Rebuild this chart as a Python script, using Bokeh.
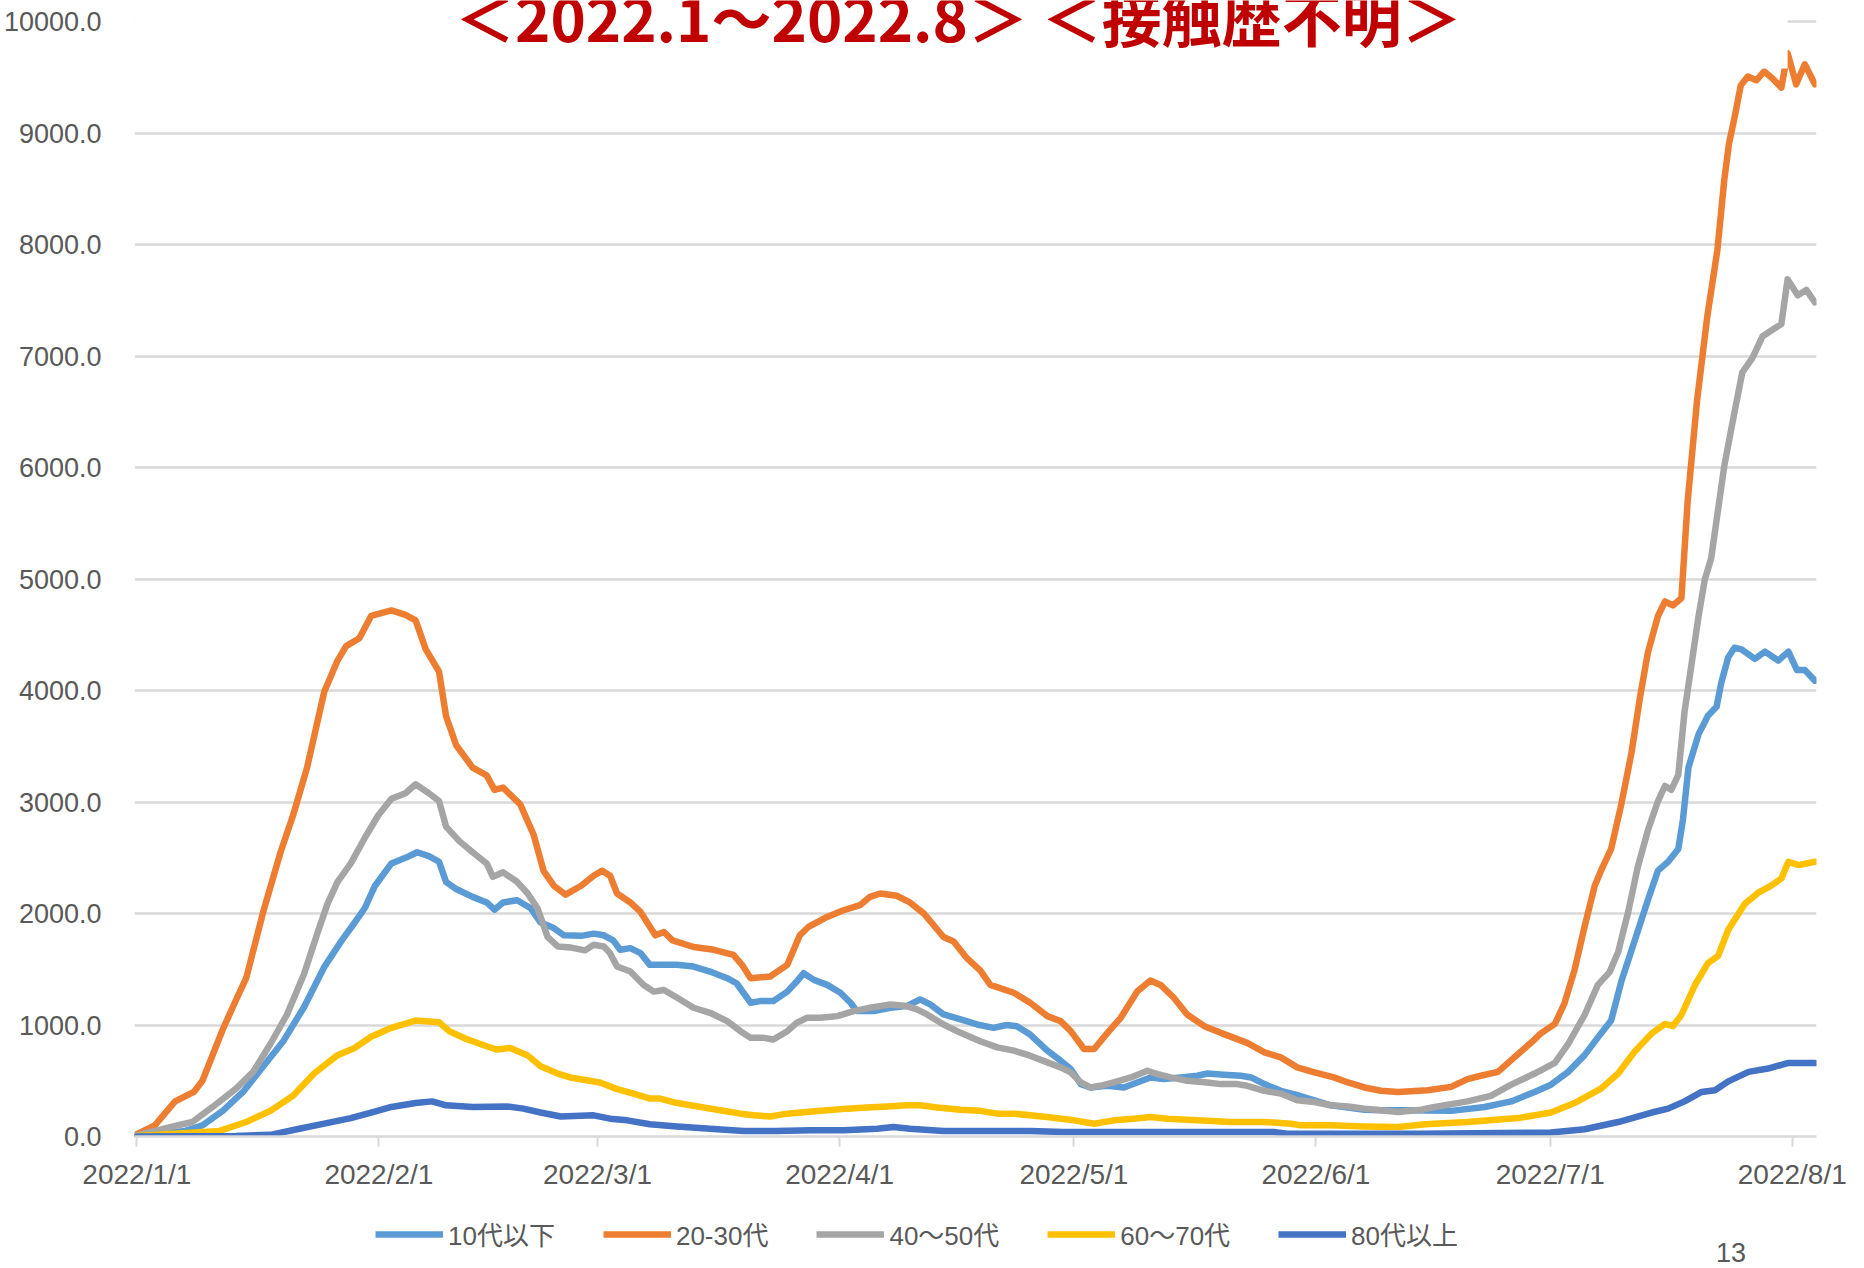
import numpy as np
from bokeh.plotting import figure
from bokeh.layouts import column
from bokeh.models import (Legend, LegendItem, Label, BoxAnnotation, FixedTicker,
                          NumeralTickFormatter, ColumnDataSource)
from bokeh.embed import file_html
from bokeh.resources import INLINE

# ---------------- data (x = days since 2022/1/1) -------------
tick_days = [0, 31, 59, 90, 120, 151, 181, 212]
tick_labels = ["2022/1/1", "2022/2/1", "2022/3/1", "2022/4/1",
               "2022/5/1", "2022/6/1", "2022/7/1", "2022/8/1"]
y_ticks = [0, 1000, 2000, 3000, 4000, 5000, 6000, 7000, 8000, 9000, 10000]

series_names = ["10代以下", "20-30代", "40～50代", "60～70代", "80代以上"]
series_colors = ["#5B9BD5", "#ED7D31", "#A5A5A5", "#FFC000", "#4472C4"]

d_10 = [0, 6.2, 8.4, 11, 13.6, 16.2, 18.8, 21.4, 24, 26.2, 27.9, 29.2, 30.5, 32.6, 34.4, 35.9,
        37.4, 38.7, 39.6, 40.9, 43, 44.8, 45.8, 46.9, 48.7, 50.4, 51.7, 53.4, 54.7, 56.9, 58.5,
        59.8, 61, 61.9, 63.2, 64.5, 65.7, 67, 69.2, 71.3, 73.4, 75.6, 76.8, 78.6, 79.8, 81.5,
        83.3, 84.5, 85.4, 86.7, 88.4, 90.1, 91.4, 92.2, 94.4, 96.5, 98.6, 100.3, 101.6, 103.3,
        105.5, 107.6, 109.7, 111.4, 112.7, 114.4, 116.6, 118.3, 119.6, 120.9, 122.1, 124.3,
        126.4, 128.1, 129.8, 131.5, 133.7, 135.8, 137.1, 139.2, 141.4, 142.7, 144.4, 146.5,
        148.6, 150.8, 152.9, 155.1, 157.2, 159.3, 161.9, 168.3, 172.6, 176, 179, 181.1, 183.3,
        185.4, 187.5, 188.8, 190.1, 191.8, 193.5, 194.8, 196.1, 197.4, 198, 198.7, 200, 201.2,
        202.3, 202.9, 203.8, 204.6, 205.5, 207.2, 208.5, 210.2, 211.5, 212.6, 213.6, 214.9]
v_10 = [5, 50, 100, 230, 400, 630, 860, 1160, 1520, 1755, 1920, 2050, 2250, 2450, 2500, 2550,
        2515, 2465, 2285, 2220, 2150, 2100, 2035, 2100, 2120, 2050, 1920, 1870, 1805, 1800, 1820,
        1805, 1760, 1675, 1690, 1645, 1540, 1540, 1540, 1525, 1480, 1420, 1375, 1200, 1215, 1215,
        1300, 1390, 1465, 1405, 1360, 1290, 1200, 1125, 1125, 1155, 1170, 1230, 1185, 1095,
        1050, 1005, 975, 1000, 990, 915, 770, 680, 605, 470, 440, 455,
        440, 485, 530, 515, 530, 545, 565, 555, 545, 530, 470, 410,
        370, 325, 280, 260, 240, 235, 235, 230, 265, 315, 400, 465, 580,
        730, 925, 1040, 1390, 1755, 2120, 2385, 2465, 2580, 2845, 3310, 3610, 3775,
        3855, 4070, 4300, 4385, 4370, 4285, 4350, 4270, 4350, 4185, 4185, 4090]

d_20 = [0, 2.3, 4.9, 7.3, 8.4, 11, 12.7, 14, 16.2, 18.4, 20, 21.8, 24, 25.7, 26.8, 28.5, 30,
        32.6, 34.4, 35.7, 37, 38.7, 39.6, 40.9, 43, 44.8, 45.8, 46.9, 49.1, 50.8, 52.1, 53.4,
        54.9, 56.9, 58.5, 59.6, 60.6, 61.5, 63.2, 64.5, 66.4, 67.5, 68.6, 71.3, 73.9, 76.4,
        77.5, 78.6, 81.1, 83.3, 84.9, 86, 88.4, 90.5, 92.6, 93.9, 95.2, 97.3, 99, 100.8, 103.3,
        104.6, 106.3, 108, 109.3, 112.3, 114.4, 116.6, 118.3, 119.6, 121.3, 122.6, 124.3, 126,
        128.1, 129.8, 131.1, 132.8, 134.5, 136.7, 138.8, 140.5, 142.2, 144.4, 146.5, 148.6,
        150.8, 153.3, 155.1, 157.2, 159.3, 161.5, 165.3, 168.3, 170.4, 172.1, 174.3, 176.4,
        178.6, 179.8, 181.6, 182.8, 184.1, 185.4, 186.7, 187.5, 188.8, 190.1, 191.4, 192.5,
        193.5, 194.8, 195.7, 196.7, 197.8, 198.6, 199.8, 201.1, 202.4, 203.3, 203.9, 204.6,
        205.4, 206.3, 207.4, 208.4, 209.5, 210.6, 211.4, 212.5, 213.6, 214.9]
v_20 = [20, 100, 315, 400, 500, 960, 1225, 1420, 2020, 2550, 2880, 3310, 3990, 4270, 4400, 4470,
        4670, 4720, 4680, 4630, 4370, 4170, 3770, 3510, 3310, 3240, 3110, 3130, 2980, 2710, 2380,
        2250, 2170, 2250, 2340, 2385, 2340, 2180, 2100, 2015, 1805, 1835, 1760, 1700, 1675, 1630,
        1540, 1420, 1435, 1540, 1805, 1880, 1970, 2030, 2075, 2150, 2180, 2160, 2100, 2000, 1790,
        1750, 1600, 1490, 1360, 1290, 1200, 1080, 1035, 945, 785, 785, 930, 1065,
        1300, 1400, 1360, 1245, 1095, 990, 930, 885, 840, 755, 710, 620,
        575, 530, 485, 440, 410, 400, 415, 445, 515, 545, 580, 710,
        845, 925, 1010, 1190, 1490, 1885, 2250, 2385, 2580, 2980, 3440, 3940,
        4340, 4670, 4800, 4765, 4830, 5700, 6600, 7350, 7950, 8590, 8910, 9140,
        9430, 9510, 9476, 9556, 9490, 9410, 9720, 9440, 9620, 9440]

d_40 = [0, 4, 7.1, 9.7, 12.7, 14.9, 17.1, 19.2, 21.4, 23.1, 24.4, 25.7, 27.4, 29.2, 30.9, 32.6,
        34.4, 35.7, 37.4, 38.7, 39.6, 41.3, 43, 44.8, 45.6, 46.9, 48.7, 50, 51.3, 52.6, 53.9,
        55.6, 57.4, 58.5, 59.8, 60.6, 61.5, 63.2, 64.9, 66.2, 67.5, 69.2, 71.3, 73.4, 75.6, 77.3,
        78.6, 80.3, 81.5, 83.3, 84.5, 85.8, 87.5, 89.7, 91.8, 93.9, 96.5, 98.6, 99.9, 101.2,
        103.3, 105.5, 108, 110.2, 112.3, 114.4, 116.6, 118.3, 119.6, 120.9, 122.1, 123.4, 125.1,
        127.3, 129.4, 130.7, 132.4, 134.5, 137.1, 138.8, 140.9, 142.2, 144.4, 146.5, 148.6,
        150.8, 152.9, 155.1, 157.2, 159.3, 161.5, 164.5, 166.2, 170.4, 173.4, 176, 179, 181.6,
        183.3, 185.4, 187.1, 188.6, 189.7, 191, 192.2, 193.5, 194.8, 195.7, 196.5, 197.4, 198.2,
        199.1, 200, 200.8, 201.6, 203.3, 204.6, 205.6, 206.9, 208.2, 210.6, 211.4, 212.7, 213.8,
        214.9]
v_40 = [10, 80, 130, 265, 430, 580, 830, 1090, 1455, 1820, 2085, 2285, 2450, 2680, 2880, 3030,
        3080, 3160, 3080, 3010, 2780, 2650, 2550, 2450, 2330, 2370, 2285, 2185, 2050, 1790, 1705,
        1695, 1670, 1720, 1705, 1645, 1525, 1480, 1360, 1300, 1315, 1245, 1155, 1110, 1035, 945,
        885, 885, 870, 945, 1020, 1065, 1065, 1080, 1125, 1155, 1185, 1170, 1140, 1095,
        1005, 930, 855, 800, 770, 725, 665, 620, 575, 485, 440, 455, 485,
        530, 590, 560, 530, 500, 485, 470, 470, 455, 410, 385, 325,
        310, 280, 270, 250, 235, 220, 240, 265, 315, 365, 465, 565, 660,
        830, 1090, 1360, 1475, 1655, 2020, 2415, 2745, 3010, 3145, 3110, 3245, 3810,
        4240, 4670, 5000, 5184, 6020, 6500, 6856, 6985, 7180, 7290, 7690, 7547, 7595,
        7483]

d_60 = [0, 10.6, 14, 17.1, 20, 22.7, 25.7, 27.9, 30, 32.6, 35.7, 38.7, 40, 42.2, 44.8, 46.1,
        47.8, 50, 51.7, 53.9, 55.5, 57.6, 59.3, 61.5, 63.6, 65.7, 67, 69.2, 72.2, 74.7, 77.3, 79,
        81.1, 83.3, 85.8, 88.4, 91, 93.5, 96.1, 98.6, 100.3, 102.5, 105.5, 108, 110.2, 112.3,
        116.6, 120, 122.6, 125.1, 127.7, 129.8, 132, 135.8, 140.1, 144.4, 147.8, 149.1, 152.9,
        157.2, 161.5, 165, 170.4, 176.9, 181.1, 184.1, 187.5, 189.7, 191.8, 194, 195.7, 196.7,
        197.8, 199.5, 201.2, 202.5, 203.8, 205.9, 207.6, 209.3, 210.6, 211.5, 212.8, 214.9]
v_60 = [5, 50, 130, 230, 365, 565, 730, 795, 895, 975, 1040, 1025, 945, 875, 810, 780,
        795, 730, 630, 565, 530, 505, 485, 425, 385, 340, 340, 300, 265, 235, 205, 190,
        180, 205, 220, 235, 250, 260, 270, 280, 280, 260, 240, 230, 205, 205,
        175, 145, 115, 145, 160, 175, 160, 145, 130, 130, 115, 100, 100,
        90, 85, 110, 130, 165, 215, 300, 430, 565, 760, 925, 1010, 990,
        1090, 1355, 1555, 1620, 1855, 2085, 2185, 2250, 2315, 2465, 2435, 2465]

d_80 = [0, 12.7, 17.1, 20.5, 24, 27.4, 30, 32.6, 35.7, 37.8, 39.6, 43, 47.4, 49.5, 51.7, 54.3,
        58.5, 60.6, 62.8, 65.7, 69.2, 73.4, 77.7, 81.9, 86.2, 90.5, 94.8, 96.9, 99, 103.3, 108,
        114.4, 118.7, 129.4, 145.6, 147.3, 164.5, 181.1, 185.4, 189.7, 194, 196.1, 198.2, 200.4,
        202.1, 203.8, 206.4, 208.9, 211.5, 214.9]
v_80 = [0, 5, 15, 65, 115, 165, 215, 265, 300, 315, 280, 265, 270, 250, 215, 180,
        190, 160, 145, 110, 90, 70, 50, 50, 55, 55, 70, 85, 70, 50, 50,
        50, 40, 40, 40, 25, 25, 35, 65, 130, 215, 250, 315, 400,
        415, 495, 580, 610, 660, 660]

series_days = [d_10, d_20, d_40, d_60, d_80]
series_vals = [v_10, v_20, v_40, v_60, v_80]

title_text = "＜2022.1～2022.8＞ ＜接触歴不明＞"
page_number = "13"

# ---------------- main figure ----------------
GRAY_TXT = "#595959"
GRID = "#D9D9D9"
SANS = "Liberation Sans, Noto Sans CJK JP"
LW = 6.5

p = figure(width=1848, height=1200, x_range=(-0.3, 215.1), y_range=(0, 10192),
           output_backend="svg", toolbar_location=None,
           min_border_left=131, min_border_right=32, min_border_top=0, min_border_bottom=64)
p.background_fill_color = "white"
p.border_fill_color = "white"
p.outline_line_color = None

p.xgrid.visible = False
p.ygrid.grid_line_color = GRID
p.ygrid.grid_line_width = 2.5

p.yaxis.ticker = FixedTicker(ticks=y_ticks)
p.yaxis.formatter = NumeralTickFormatter(format="0.0")
p.yaxis.axis_line_color = None
p.yaxis.major_tick_line_color = None
p.yaxis.minor_tick_line_color = None
p.yaxis.major_tick_out = 0
p.yaxis.major_tick_in = 0
p.yaxis.major_label_standoff = 33
p.yaxis.major_label_text_font = SANS
p.yaxis.major_label_text_font_size = "27px"
p.yaxis.major_label_text_color = GRAY_TXT

p.xaxis.ticker = FixedTicker(ticks=tick_days)
p.xaxis.major_label_overrides = {d: lab for d, lab in zip(tick_days, tick_labels)}
p.xaxis.axis_line_color = GRID
p.xaxis.axis_line_width = 2.5
p.xaxis.major_tick_line_color = GRID
p.xaxis.major_tick_line_width = 2
p.xaxis.major_tick_out = 10
p.xaxis.major_tick_in = 0
p.xaxis.minor_tick_line_color = None
p.xaxis.major_label_standoff = 12
p.xaxis.major_label_text_font = SANS
p.xaxis.major_label_text_font_size = "28px"
p.xaxis.major_label_text_color = GRAY_TXT

for name, color, dd, vv in zip(series_names, series_colors, series_days, series_vals):
    src = ColumnDataSource(dict(x=dd, y=vv))
    p.line("x", "y", source=src, line_color=color, line_width=LW,
           line_join="round", line_cap="round")

# white title box that sits over the top of the plot area in the original
cover = BoxAnnotation(right=211.4, bottom=9583, fill_color="white", fill_alpha=1.0,
                      line_color=None)
p.add_layout(cover)

title = Label(x=105.2, y=10060, text=title_text, text_align="center",
              text_baseline="middle", text_color="#C00000",
              text_font="Noto Sans CJK JP, Noto Sans, sans-serif", text_font_style="bold",
              text_font_size="60px")
p.add_layout(title)

# ---------------- footer strip: legend + page number ----------------
f = figure(width=1848, height=68, x_range=(0, 1848), y_range=(0, 68),
           output_backend="svg", toolbar_location=None,
           x_axis_location=None, y_axis_location=None,
           min_border_left=0, min_border_right=0, min_border_top=0, min_border_bottom=0)
f.outline_line_color = None
f.background_fill_color = "white"
f.border_fill_color = "white"
f.xgrid.visible = False
f.ygrid.grid_line_color = None

# legend-only renderers (a single NaN row: nothing is drawn in the strip itself)
legend_renderers = []
for color in series_colors:
    src = ColumnDataSource(dict(x=np.array([np.nan]), y=np.array([np.nan])))
    legend_renderers.append(f.line("x", "y", source=src, line_color=color, line_width=LW))

legend = Legend(items=[LegendItem(label=n, renderers=[r])
                       for n, r in zip(series_names, legend_renderers)],
                orientation="horizontal", location=(241, 16),
                glyph_width=68, glyph_height=28, label_height=28,
                label_standoff=5, spacing=48,
                padding=0, margin=0, border_line_color=None, background_fill_alpha=0,
                label_text_font="Liberation Sans, Noto Sans CJK JP",
                label_text_font_size="26px", label_text_color=GRAY_TXT)
f.add_layout(legend)

pnum = Label(x=1754, y=16, text=page_number, text_align="center",
             text_baseline="middle", text_color=GRAY_TXT,
             text_font="Liberation Sans", text_font_size="27px")
f.add_layout(pnum)

layout = column(p, f, spacing=0)
open("out.html", "w").write(file_html(layout, INLINE))
